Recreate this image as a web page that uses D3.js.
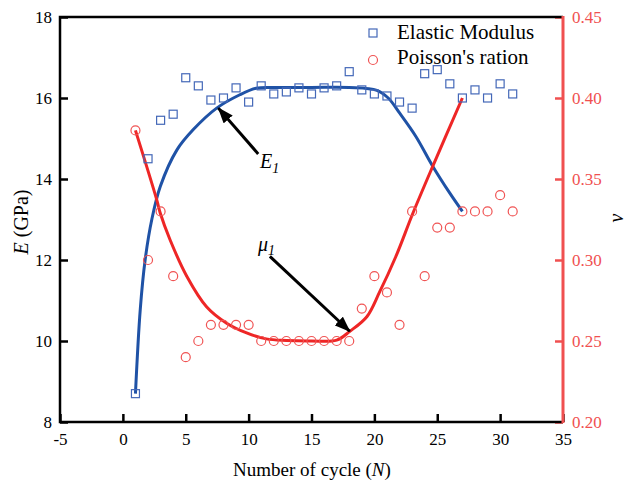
<!DOCTYPE html>
<html>
<head>
<meta charset="utf-8">
<script src="https://cdn.jsdelivr.net/npm/d3@7"></script>
<style>
  body { margin: 0; background: #fff; }
  svg text { font-family: "Liberation Serif", "Times New Roman", serif; }
</style>
</head>
<body>
<svg class="chart" width="626" height="485"></svg>
<script>
// measured data
var cycles = [1, 2, 3, 4, 5, 6, 7, 8, 9, 10, 11, 12, 13, 14, 15, 16,
              17, 18, 19, 20, 21, 22, 23, 24, 25, 26, 27, 28, 29, 30, 31];
var modulus = [8.7, 14.5, 15.45, 15.6, 16.5, 16.3, 15.95, 16.0, 16.25, 15.9, 16.3, 16.1,
               16.15, 16.25, 16.1, 16.25, 16.3, 16.65, 16.2, 16.1, 16.05, 15.9, 15.75,
               16.6, 16.7, 16.35, 16.0, 16.2, 16.0, 16.35, 16.1];
var poisson = [0.38, 0.30, 0.33, 0.29, 0.24, 0.25, 0.26, 0.26, 0.26, 0.26, 0.25, 0.25,
               0.25, 0.25, 0.25, 0.25, 0.25, 0.25, 0.27, 0.29, 0.28, 0.26, 0.33, 0.29,
               0.32, 0.32, 0.33, 0.33, 0.33, 0.34, 0.33];

// fitted curves
var fitEx = [1, 1.38, 1.77, 2.3, 2.98, 4.3, 5.6, 7.46, 9.3, 10.6, 12, 15, 18, 20.2,
             21.1, 22, 23.3, 24.65, 26, 27];
var fitEy = [8.7, 10.77, 12.0, 13.0, 13.82, 14.72, 15.22, 15.75, 16.08, 16.24, 16.26,
             16.26, 16.26, 16.19, 16.0, 15.63, 15.05, 14.31, 13.65, 13.2];
var fitNux = [1, 2.7, 2.97, 3.75, 5.08, 6.67, 8.25, 9.84, 11.4, 13, 15, 17, 18.05,
              19.4, 20.4, 21.7, 23.07, 24.65, 27];
var fitNuy = [0.38, 0.337, 0.329, 0.3125, 0.29, 0.271, 0.261, 0.255, 0.2513, 0.2503,
              0.25, 0.2505, 0.256, 0.265, 0.28, 0.302, 0.329, 0.358, 0.40];

var xTicks = [-5, 0, 5, 10, 15, 20, 25, 30, 35];
var eTicks = [8, 10, 12, 14, 16, 18];
var nuTicks = [0.20, 0.25, 0.30, 0.35, 0.40, 0.45];

var serif = "Liberation Serif, Times New Roman, serif";
var blueMark = "#4468b8", blueLine = "#1f52a6",
    redMark = "#f05454", redLine = "#ee2626", redAxis = "#f05050";

var svg = d3.select(".chart"),
    margin = {top: 17, right: 63, bottom: 63, left: 60},
    width = +svg.attr("width") - margin.left - margin.right,
    height = +svg.attr("height") - margin.top - margin.bottom;

var x = d3.scaleLinear().domain([-5, 35]).range([0, width]);
var yE = d3.scaleLinear().domain([8, 18]).range([height, 0]);
var yNu = d3.scaleLinear().domain([0.20, 0.45]).range([height, 0]);

var g = svg.append("g")
    .attr("transform", "translate(" + margin.left + "," + margin.top + ")");

// axes (ticks point inward)
var gx = g.append("g")
    .attr("transform", "translate(0," + height + ")")
    .call(d3.axisBottom(x).tickValues(xTicks).tickSizeInner(-8).tickSizeOuter(0).tickPadding(11)
      .tickFormat(function(d) { return String(d); }));
var gy = g.append("g")
    .call(d3.axisLeft(yE).tickValues(eTicks).tickSizeInner(-8).tickSizeOuter(0).tickPadding(8)
      .tickFormat(function(d) { return String(d); }));
var gr = g.append("g")
    .attr("transform", "translate(" + width + ",0)")
    .call(d3.axisRight(yNu).tickValues(nuTicks).tickSizeInner(-8).tickSizeOuter(0).tickPadding(9)
      .tickFormat(d3.format(".2f")));

[gx, gy, gr].forEach(function(a) {
  a.attr("font-family", serif).attr("font-size", 17);
  a.select(".domain").remove();
  a.selectAll("text").style("font-family", serif);
  a.selectAll("line").attr("stroke-width", 2.5);
});
gx.selectAll("text").attr("fill", "#000");
gy.selectAll("text").attr("fill", "#000");
gr.selectAll("text").attr("fill", redAxis);
gr.selectAll("line").attr("stroke", redAxis);

// frame
g.append("path")
    .attr("d", "M" + width + ",0H0V" + height + "H" + width)
    .attr("fill", "none")
    .attr("stroke", "#000")
    .attr("stroke-width", 2.5);
g.append("line")
    .attr("x1", width).attr("x2", width)
    .attr("y1", -1).attr("y2", height + 1)
    .attr("stroke", redAxis)
    .attr("stroke-width", 3);

// fitted lines
var lineE = d3.line()
    .x(function(d) { return x(d[0]); })
    .y(function(d) { return yE(d[1]); })
    .curve(d3.curveCatmullRom.alpha(0.5));
var lineNu = d3.line()
    .x(function(d) { return x(d[0]); })
    .y(function(d) { return yNu(d[1]); })
    .curve(d3.curveCatmullRom.alpha(0.5));

g.append("path")
    .datum(d3.zip(fitEx, fitEy))
    .attr("d", lineE)
    .attr("fill", "none")
    .attr("stroke", blueLine)
    .attr("stroke-width", 3);
g.append("path")
    .datum(d3.zip(fitNux, fitNuy))
    .attr("d", lineNu)
    .attr("fill", "none")
    .attr("stroke", redLine)
    .attr("stroke-width", 3);

// markers
g.selectAll(".sq")
    .data(d3.zip(cycles, modulus))
  .enter().append("rect")
    .attr("class", "sq")
    .attr("x", function(d) { return x(d[0]) - 4; })
    .attr("y", function(d) { return yE(d[1]) - 4; })
    .attr("width", 8)
    .attr("height", 8)
    .attr("fill", "none")
    .attr("stroke", blueMark)
    .attr("stroke-width", 1.2);

g.selectAll(".ci")
    .data(d3.zip(cycles, poisson))
  .enter().append("circle")
    .attr("class", "ci")
    .attr("cx", function(d) { return x(d[0]); })
    .attr("cy", function(d) { return yNu(d[1]); })
    .attr("r", 4.5)
    .attr("fill", "none")
    .attr("stroke", redMark)
    .attr("stroke-width", 1.2);

// arrows
svg.append("defs").append("marker")
    .attr("id", "head")
    .attr("viewBox", "0 0 16 12")
    .attr("refX", 15)
    .attr("refY", 6)
    .attr("markerWidth", 16)
    .attr("markerHeight", 12)
    .attr("markerUnits", "userSpaceOnUse")
    .attr("orient", "auto")
  .append("path")
    .attr("d", "M0,0L16,6L0,12Z")
    .attr("fill", "#000");

var arrows = [
  {from: [10.76, 14.62], to: [7.59, 15.75]},
  {from: [11.69, 12.09], to: [18.04, 10.24]}
];
g.selectAll(".arrow")
    .data(arrows)
  .enter().append("line")
    .attr("class", "arrow")
    .attr("x1", function(d) { return x(d.from[0]); })
    .attr("y1", function(d) { return yE(d.from[1]); })
    .attr("x2", function(d) { return x(d.to[0]); })
    .attr("y2", function(d) { return yE(d.to[1]); })
    .attr("stroke", "#000")
    .attr("stroke-width", 3)
    .attr("marker-end", "url(#head)");

var e1 = svg.append("text")
    .attr("x", 260).attr("y", 168)
    .attr("font-size", 20).attr("font-style", "italic");
e1.append("tspan").text("E");
e1.append("tspan").attr("font-size", 14).attr("dy", 5).text("1");

var mu1 = svg.append("text")
    .attr("x", 258).attr("y", 251)
    .attr("font-size", 20).attr("font-style", "italic");
mu1.append("tspan").text("μ");
mu1.append("tspan").attr("font-size", 14).attr("dy", 4).text("1");

// legend
var legend = svg.append("g").attr("transform", "translate(373,0)");
legend.append("rect")
    .attr("x", -4).attr("y", 29).attr("width", 8).attr("height", 8)
    .attr("fill", "none").attr("stroke", blueMark).attr("stroke-width", 1.2);
legend.append("circle")
    .attr("cx", 0).attr("cy", 60).attr("r", 4.5)
    .attr("fill", "none").attr("stroke", redMark).attr("stroke-width", 1.2);
legend.append("text")
    .attr("x", 24).attr("y", 39).attr("font-size", 21)
    .text("Elastic Modulus");
legend.append("text")
    .attr("x", 24).attr("y", 64).attr("font-size", 21)
    .text("Poisson's ration");

// axis titles
var xt = svg.append("text")
    .attr("x", 312).attr("y", 476)
    .attr("text-anchor", "middle")
    .attr("font-size", 19);
xt.append("tspan").text("Number of cycle (");
xt.append("tspan").attr("font-style", "italic").text("N");
xt.append("tspan").text(")");

var yt = svg.append("text")
    .attr("transform", "translate(28,222) rotate(-90)")
    .attr("text-anchor", "middle")
    .attr("font-size", 20);
yt.append("tspan").attr("font-style", "italic").text("E");
yt.append("tspan").text(" (GPa)");

svg.append("text")
    .attr("transform", "translate(623,218) rotate(-90)")
    .attr("text-anchor", "middle")
    .attr("font-size", 20)
    .attr("font-style", "italic")
    .text("ν");
</script>
</body>
</html>
